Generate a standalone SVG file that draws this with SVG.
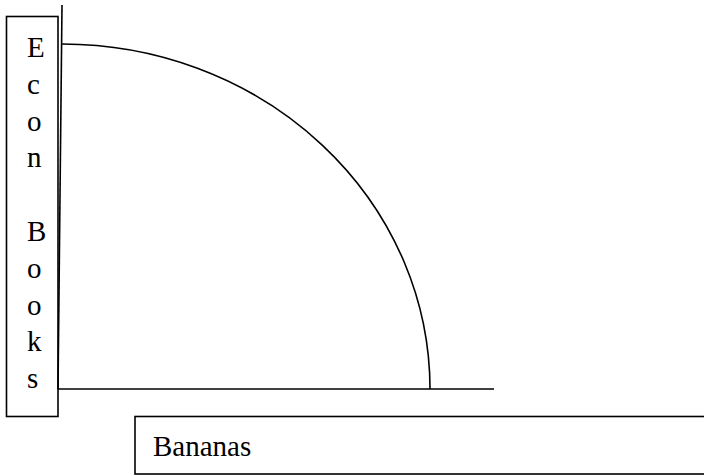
<svg xmlns="http://www.w3.org/2000/svg" width="704" height="476" viewBox="0 0 704 476">
<style>
.box{fill:#fff;stroke:#000;stroke-width:1.6}
.ln{fill:none;stroke:#000;stroke-width:1.6}
.t{font-family:"Liberation Serif","Times New Roman",serif;font-size:29px;fill:#000}
</style>
<rect width="704" height="476" fill="#fff"/>
<g id="econ-books">
<rect class="box" x="6.5" y="16.5" width="51.5" height="400"/>
<text class="t" x="27" y="57">E</text>
<text class="t" x="27" y="93.8">c</text>
<text class="t" x="27" y="130.6">o</text>
<text class="t" x="27" y="167.4">n</text>
<text class="t" x="27" y="241">B</text>
<text class="t" x="27" y="277.8">o</text>
<text class="t" x="27" y="314.6">o</text>
<text class="t" x="27" y="351.4">k</text>
<text class="t" x="27" y="388.2">s</text>
</g>
<g id="bananas">
<rect class="box" x="135" y="416.5" width="600" height="57.5"/>
<text class="t" x="153" y="456">Bananas</text>
</g>
<g id="connectors">
<line class="ln" x1="62" y1="5" x2="58" y2="389"/>
<line class="ln" x1="58" y1="389" x2="494" y2="389"/>
<path class="ln" d="M 62 44 A 368 345 0 0 1 430 389"/>
</g>
</svg>
